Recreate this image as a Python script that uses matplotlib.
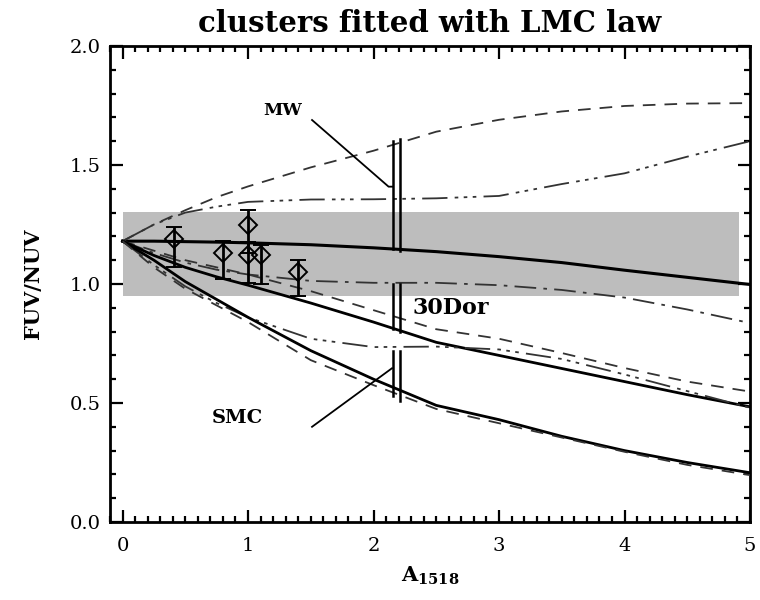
import matplotlib
matplotlib.use("Agg")
import matplotlib.pyplot as plt
from matplotlib.ticker import MultipleLocator, FixedLocator, FormatStrFormatter

# ---- model curves: FUV/NUV versus A_1518 ----
x_grid = [0.0, 0.25, 0.5, 0.75, 1.0, 1.5, 2.0, 2.5, 3.0, 3.5, 4.0, 4.5, 5.0]

solid_flat = [1.18, 1.18, 1.178, 1.176, 1.173, 1.165, 1.152, 1.136, 1.115, 1.09, 1.058, 1.028, 0.998]
dashed_top = [1.18, 1.25, 1.31, 1.365, 1.41, 1.49, 1.56, 1.64, 1.69, 1.725, 1.748, 1.758, 1.76]
dash3dot_top = [1.18, 1.25, 1.30, 1.325, 1.345, 1.355, 1.356, 1.36, 1.37, 1.42, 1.465, 1.535, 1.60]
dashdot_mid = [1.18, 1.13, 1.09, 1.06, 1.04, 1.013, 1.005, 1.005, 0.995, 0.975, 0.943, 0.893, 0.836]
dashed_mid = [1.18, 1.14, 1.10, 1.07, 1.04, 0.97, 0.89, 0.81, 0.77, 0.71, 0.647, 0.59, 0.548]
solid_mid = [1.18, 1.12, 1.07, 1.03, 0.995, 0.92, 0.84, 0.755, 0.70, 0.645, 0.59, 0.535, 0.484]
dash3dot_mid = [1.18, 1.08, 0.99, 0.92, 0.86, 0.77, 0.735, 0.737, 0.725, 0.685, 0.62, 0.55, 0.48]
solid_low = [1.18, 1.10, 1.01, 0.935, 0.86, 0.72, 0.60, 0.49, 0.43, 0.36, 0.30, 0.25, 0.207]
dashed_low = [1.18, 1.07, 0.98, 0.91, 0.84, 0.68, 0.575, 0.475, 0.415, 0.355, 0.295, 0.24, 0.197]

# ---- observed colour range of the sample (shaded band) ----
band_x = [0.0, 4.91]
band_lo = 0.948
band_hi = 1.303

# ---- clusters with error bars ----
clus_x = [0.41, 0.80, 1.00, 1.00, 1.10, 1.40]
clus_y = [1.19, 1.13, 1.25, 1.12, 1.12, 1.05]
clus_err_lo = [0.12, 0.11, 0.12, 0.115, 0.12, 0.10]
clus_err_hi = [0.05, 0.05, 0.06, 0.055, 0.045, 0.05]

# ---- ranges at A_1518 ~ 2.2 for the three extinction laws ----
range_x = [2.155, 2.21]
range_left = [(1.60, 1.145), (1.00, 0.81), (0.72, 0.53)]
range_right = [(1.61, 1.14), (1.00, 0.80), (0.72, 0.51)]

law_labels = ["MW", "30Dor", "SMC"]
label_pos = [(1.12, 1.727), (2.31, 0.90), (0.71, 0.437)]
label_sizes = [12.5, 16, 14]
mw_pointer_x = [1.51, 2.12, 2.155]
mw_pointer_y = [1.689, 1.409, 1.409]
smc_pointer_x = [1.51, 2.147]
smc_pointer_y = [0.40, 0.646]

FONT = ["DejaVu Serif", "DejaVu Sans"]
plt.rcParams["font.family"] = FONT
plt.rcParams["mathtext.fontset"] = "custom"
plt.rcParams["mathtext.rm"] = "DejaVu Serif:bold"
plt.rcParams["mathtext.default"] = "rm"

fig = plt.figure(figsize=(7.6, 6.0), dpi=100)
ax = fig.add_axes([110 / 760, 78 / 600, 640 / 760, 476 / 600])

ax.fill_between(band_x, band_lo, band_hi, color="#bdbdbd", lw=0, zorder=1)

DASH = (0, (7, 5))
DASHDOT = (0, (12, 4, 2, 4))
DASH3DOT = (0, (14, 4, 2, 3, 2, 3, 2, 4))

ax.plot(x_grid, solid_flat, color="black", lw=2.2, zorder=3)
ax.plot(x_grid, dashed_top, color="#333333", lw=1.3, ls=DASH, zorder=3)
ax.plot(x_grid, dash3dot_top, color="#333333", lw=1.3, ls=DASH3DOT, zorder=3)
ax.plot(x_grid, dashdot_mid, color="#333333", lw=1.3, ls=DASHDOT, zorder=3)
ax.plot(x_grid, dashed_mid, color="#333333", lw=1.3, ls=DASH, zorder=3)
ax.plot(x_grid, solid_mid, color="black", lw=2.0, zorder=3)
ax.plot(x_grid, dash3dot_mid, color="#333333", lw=1.3, ls=DASH3DOT, zorder=3)
ax.plot(x_grid, solid_low, color="black", lw=2.0, zorder=3)
ax.plot(x_grid, dashed_low, color="#333333", lw=1.3, ls=DASH, zorder=3)

# vertical range bars
for xv, segs in zip(range_x, [range_left, range_right]):
    for top, bot in segs:
        ax.plot([xv, xv], [bot, top], color="black", lw=1.8, zorder=4)

# pointers and law labels
ax.plot(mw_pointer_x, mw_pointer_y, color="black", lw=1.3, zorder=4)
ax.plot(smc_pointer_x, smc_pointer_y, color="black", lw=1.3, zorder=4)
for txt, (tx, ty), fs in zip(law_labels, label_pos, label_sizes):
    ax.text(tx, ty, txt, ha="left", va="center", fontsize=fs, fontweight="bold", zorder=5)

# clusters
ax.errorbar(clus_x, clus_y, yerr=[clus_err_lo, clus_err_hi], fmt="D", ms=9,
            mfc="none", mec="black", mew=1.4, ecolor="black", elinewidth=2.0,
            capsize=6, capthick=2.0, zorder=6)

ax.set_xlim(-0.1, 5.0)
ax.set_ylim(0.0, 2.0)

# axes styling
for sp in ax.spines.values():
    sp.set_linewidth(2.0)
ax.xaxis.set_major_locator(FixedLocator([0, 1, 2, 3, 4, 5]))
ax.xaxis.set_minor_locator(MultipleLocator(0.1))
ax.yaxis.set_major_locator(MultipleLocator(0.5))
ax.yaxis.set_minor_locator(MultipleLocator(0.1))
ax.yaxis.set_major_formatter(FormatStrFormatter("%.1f"))
ax.tick_params(which="both", direction="in", top=True, right=True, width=1.6)
ax.tick_params(which="major", length=9)
ax.tick_params(which="minor", length=4.5)
ax.tick_params(axis="x", which="major", pad=11, labelsize=14)
ax.tick_params(axis="y", which="major", pad=7, labelsize=14)

ax.set_title("clusters fitted with LMC law", fontsize=21, fontweight="bold", pad=10)
ax.set_ylabel("FUV/NUV", fontsize=15, fontweight="bold", labelpad=19)
ax.set_xlabel(r"A$_{1518}$", fontsize=15, fontweight="bold", labelpad=7)

fig.savefig("out.png", dpi=100)
